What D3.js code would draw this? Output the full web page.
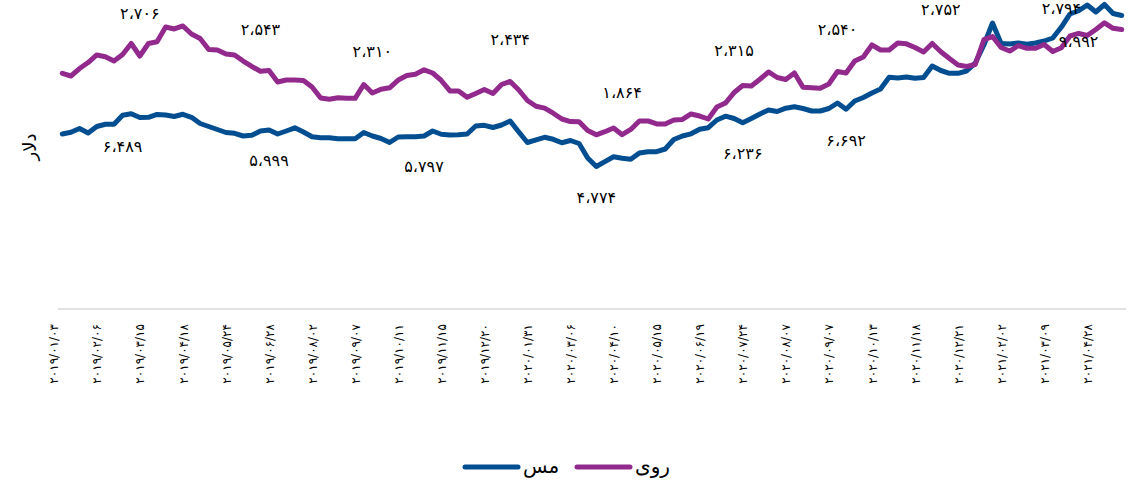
<!DOCTYPE html>
<html>
<head>
<meta charset="utf-8">
<script src="https://cdn.jsdelivr.net/npm/d3@7"></script>
<style>
  body { margin: 0; background: #fff; }
  svg { display: block; }
</style>
</head>
<body>
<svg id="chart"></svg>
<script>
// weekly prices, USD per tonne
const copper = [
  5863, 5920, 6047, 5896, 6114, 6188, 6188, 6489, 6540, 6415,
  6422, 6516, 6499, 6449, 6523, 6422, 6214, 6114, 6013, 5913,
  5886, 5796, 5819, 5963, 5999, 5863, 5963, 6070, 5930, 5772,
  5739, 5735, 5705, 5705, 5705, 5913, 5796, 5712, 5578, 5762,
  5772, 5772, 5797, 5963, 5853, 5829, 5839, 5863, 6131, 6154,
  6080, 6164, 6298, 5930, 5578, 5668, 5752, 5685, 5571, 5645,
  5544, 5059, 4774, 4935, 5099, 5049, 5015, 5226, 5270, 5270,
  5360, 5678, 5796, 5869, 6020, 6074, 6332, 6459, 6382, 6236,
  6382, 6533, 6667, 6616, 6727, 6774, 6717, 6633, 6633, 6717,
  6901, 6692, 6968, 7085, 7236, 7370, 7762, 7739, 7772, 7729,
  7755, 8141, 7990, 7896, 7896, 7973, 8241, 8844, 9581, 8894,
  8878, 8911, 8868, 8911, 8978, 9079, 9447, 9883, 9992, 10184,
  9950, 10201, 9899, 9832
];
const zinc = [
  2521, 2492, 2572, 2636, 2717, 2698, 2652, 2722, 2840, 2706,
  2840, 2859, 3016, 2995, 3027, 2941, 2893, 2775, 2770, 2727,
  2717, 2652, 2594, 2543, 2551, 2428, 2449, 2449, 2444, 2374,
  2257, 2243, 2259, 2253, 2253, 2401, 2310, 2351, 2366, 2449,
  2497, 2511, 2558, 2524, 2444, 2332, 2332, 2264, 2305, 2348,
  2305, 2401, 2434, 2342, 2230, 2168, 2148, 2094, 2032, 2005,
  2003, 1909, 1863, 1896, 1936, 1864, 1920, 2011, 2011, 1979,
  1979, 2021, 2027, 2086, 2064, 2032, 2160, 2203, 2315, 2390,
  2385, 2457, 2535, 2476, 2455, 2524, 2371, 2366, 2361, 2406,
  2540, 2524, 2652, 2695, 2824, 2770, 2770, 2845, 2836, 2797,
  2749, 2840, 2752, 2679, 2610, 2594, 2615, 2880, 2914, 2797,
  2759, 2818, 2788, 2788, 2829, 2754, 2794, 2920, 2947, 2925,
  2989, 3061, 3002, 2989
];
// one label every fifth week
const tickLabels = [
  "2019/01/03", "2019/02/06", "2019/03/15", "2019/04/18", "2019/05/24",
  "2019/06/28", "2019/08/02", "2019/09/07", "2019/10/11", "2019/11/15",
  "2019/12/20", "2020/01/31", "2020/03/06", "2020/04/10", "2020/05/15",
  "2020/06/19", "2020/07/24", "2020/08/07", "2020/09/07", "2020/10/13",
  "2020/11/18", "2020/12/21", "2021/02/02", "2021/03/09", "2021/04/28"
];
// weeks that carry a value label
const copperNotes = [7, 24, 42, 62, 79, 91, 118];
const zincNotes = [9, 23, 36, 52, 65, 78, 90, 102, 116];

const series = [
  {name: "مس", values: copper, color: "#034e91"},
  {name: "روی", values: zinc, color: "#922a8e"}
];

const width = 1137, height = 491;
const faFont = "'DejaVu Sans', sans-serif";
const toFa = s => String(s).replace(/\d/g, d => "۰۱۲۳۴۵۶۷۸۹"[d]).replace(/,/g, "،");
const fmt = v => toFa(d3.format(",")(v));

const svg = d3.select("#chart")
  .attr("width", width)
  .attr("height", height)
  .attr("viewBox", [0, 0, width, height]);

const x = d3.scaleBand()
  .domain(d3.range(copper.length))
  .range([58, 1126]);
const cx = i => x(i) + x.bandwidth() / 2;

// two hidden value axes, both starting at zero on the baseline
const yCopper = d3.scaleLinear().domain([0, 10000]).range([309, 10.5]);
const yZinc = d3.scaleLinear().domain([0, 3000]).range([309, 28.5]);

// baseline
svg.append("line")
  .attr("x1", x.range()[0]).attr("x2", x.range()[1])
  .attr("y1", 309).attr("y2", 309)
  .attr("stroke", "#d9d9d9")
  .attr("stroke-width", 1.5);

// x tick labels, rotated
svg.append("g")
  .selectAll("text")
  .data(tickLabels)
  .join("text")
  .attr("transform", (d, k) => `translate(${cx(k * 5) - 4},324) rotate(-90)`)
  .attr("text-anchor", "end")
  .attr("direction", "ltr")
  .attr("font-family", faFont)
  .attr("font-size", 12)
  .attr("letter-spacing", 2.6)
  .attr("fill", "#000")
  .text(d => toFa(d));

// lines
const line = yScale => d3.line()
  .x((d, i) => cx(i))
  .y(d => yScale(d));

series.forEach((s, k) => {
  svg.append("path")
    .datum(s.values)
    .attr("fill", "none")
    .attr("stroke", s.color)
    .attr("stroke-width", 5)
    .attr("stroke-linejoin", "round")
    .attr("stroke-linecap", "round")
    .attr("d", line(k === 0 ? yCopper : yZinc));
});

// value labels
svg.append("g")
  .selectAll("text")
  .data(copperNotes)
  .join("text")
  .attr("x", i => cx(i))
  .attr("y", i => yCopper(copper[i]) + 32)
  .attr("text-anchor", "middle")
  .attr("dominant-baseline", "middle")
  .attr("font-family", faFont)
  .attr("font-size", 16)
  .attr("fill", "#000")
  .text(i => fmt(copper[i]));

svg.append("g")
  .selectAll("text")
  .data(zincNotes)
  .join("text")
  .attr("x", i => cx(i))
  .attr("y", i => Math.max(9, yZinc(zinc[i]) - 41))
  .attr("text-anchor", "middle")
  .attr("dominant-baseline", "middle")
  .attr("font-family", faFont)
  .attr("font-size", 16)
  .attr("fill", "#000")
  .text(i => fmt(zinc[i]));

// y axis title
svg.append("text")
  .attr("transform", "translate(31,147) rotate(-90)")
  .attr("text-anchor", "middle")
  .attr("dominant-baseline", "middle")
  .attr("font-family", faFont)
  .attr("font-size", 18)
  .text("دلار");

// legend
const legend = svg.append("g")
  .selectAll("g")
  .data(series)
  .join("g")
  .attr("transform", (d, k) => `translate(${465 + k * 112},467)`);

legend.append("line")
  .attr("x1", 0).attr("x2", 53)
  .attr("stroke", d => d.color)
  .attr("stroke-width", 5)
  .attr("stroke-linecap", "round");

legend.append("text")
  .attr("x", 58)
  .attr("y", 6)
  .attr("font-family", faFont)
  .attr("font-size", 20)
  .attr("fill", "#000")
  .text(d => d.name);
</script>
</body>
</html>
